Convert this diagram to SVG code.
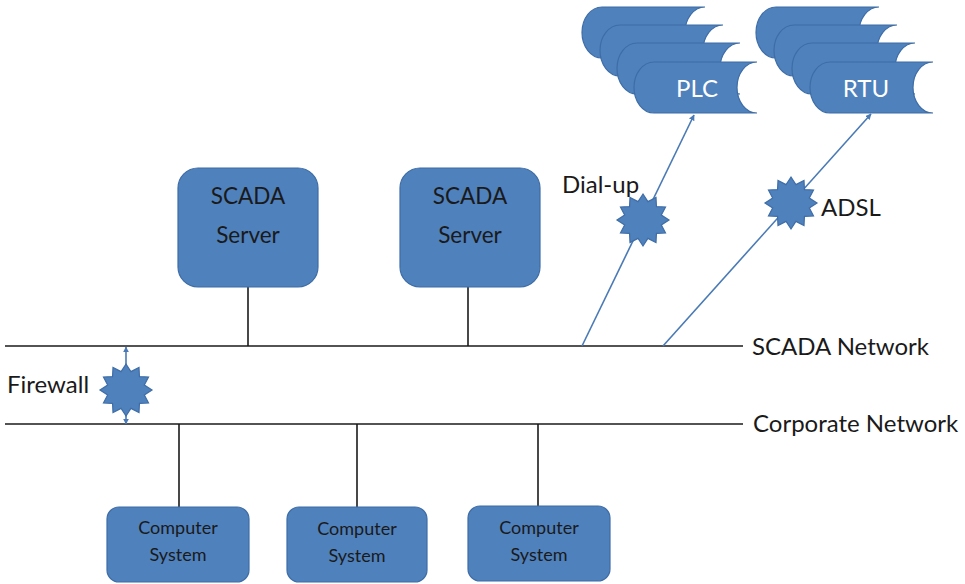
<svg xmlns="http://www.w3.org/2000/svg" width="965" height="584" viewBox="0 0 965 584">
<style>
.box{fill:#4F81BD;stroke:#3E6DA6;stroke-width:1.2}
.dark{font-family:Lato,"Liberation Sans",sans-serif;fill:#1a1a1a;text-anchor:middle}
.lbl{font-family:Lato,"Liberation Sans",sans-serif;fill:#1a1a1a;font-size:24px}
.white{font-family:Lato,"Liberation Sans",sans-serif;fill:#ffffff;text-anchor:middle;font-size:24px}
.net{stroke:#1a1a1a;stroke-width:1.6;fill:none}
.link{stroke:#4A7AB5;stroke-width:1.6;fill:none}
</style>
<defs>
<marker id="ah" viewBox="0 0 10 10" refX="9" refY="5" markerWidth="6" markerHeight="6" orient="auto-start-reverse" markerUnits="userSpaceOnUse">
<path d="M0,0 L10,5 L0,10 Z" fill="#4A7AB5"/>
</marker>
<polygon id="star" points="0,-26 4.92,-18.35 13,-22.52 13.43,-13.43 22.52,-13 18.35,-4.92 26,0 18.35,4.92 22.52,13 13.43,13.43 13,22.52 4.92,18.35 0,26 -4.92,18.35 -13,22.52 -13.43,13.43 -22.52,13 -18.35,4.92 -26,0 -18.35,-4.92 -22.52,-13 -13.43,-13.43 -13,-22.52 -4.92,-18.35"/>
<path id="sd" d="M20,0 H123 A20 25.5 0 0 0 123,51 H20 A20 25.5 0 0 1 20,0 Z"/>
</defs>

<g id="connectors">
<line class="net" x1="5" y1="346" x2="743" y2="346"/>
<line class="net" x1="5" y1="424" x2="743" y2="424"/>
<line class="net" x1="248" y1="287" x2="248" y2="346"/>
<line class="net" x1="468" y1="287" x2="468" y2="346"/>
<line class="net" x1="179" y1="424" x2="179" y2="507"/>
<line class="net" x1="357" y1="424" x2="357" y2="507"/>
<line class="net" x1="538" y1="424" x2="538" y2="506"/>
<line class="link" x1="582" y1="346" x2="694" y2="115" marker-end="url(#ah)"/>
<line class="link" x1="663" y1="346" x2="871" y2="114" marker-end="url(#ah)"/>
<line class="link" x1="126" y1="424" x2="126" y2="347" marker-start="url(#ah)" marker-end="url(#ah)"/>
</g>

<g id="scada-server-1">
<rect class="box" x="178" y="168" width="140" height="119" rx="20"/>
<text class="dark" font-size="22.5" x="248" y="204">SCADA</text>
<text class="dark" font-size="22.5" x="248" y="243">Server</text>
</g>
<g id="scada-server-2">
<rect class="box" x="400" y="168" width="140" height="119" rx="20"/>
<text class="dark" font-size="22.5" x="470" y="204">SCADA</text>
<text class="dark" font-size="22.5" x="470" y="243">Server</text>
</g>

<g id="computer-1">
<rect class="box" x="107" y="507" width="142" height="75" rx="12"/>
<text class="dark" font-size="18" x="178" y="534">Computer</text>
<text class="dark" font-size="18" x="178" y="561">System</text>
</g>
<g id="computer-2">
<rect class="box" x="287" y="507" width="140" height="75" rx="12"/>
<text class="dark" font-size="18" x="357" y="535">Computer</text>
<text class="dark" font-size="18" x="357" y="562">System</text>
</g>
<g id="computer-3">
<rect class="box" x="468" y="506" width="142" height="75" rx="12"/>
<text class="dark" font-size="18" x="539" y="534">Computer</text>
<text class="dark" font-size="18" x="539" y="561">System</text>
</g>

<g id="plc">
<use href="#sd" class="box" x="582" y="7"/>
<use href="#sd" class="box" x="600" y="25"/>
<use href="#sd" class="box" x="617" y="43"/>
<use href="#sd" class="box" x="634" y="62"/>
<text class="white" x="697" y="97">PLC</text>
</g>
<g id="rtu">
<use href="#sd" class="box" x="756" y="7"/>
<use href="#sd" class="box" x="774" y="25"/>
<use href="#sd" class="box" x="792" y="43"/>
<use href="#sd" class="box" x="810" y="62"/>
<text class="white" x="866" y="97">RTU</text>
</g>

<g id="firewall">
<use href="#star" class="box" x="126" y="390"/>
<text class="lbl" x="7" y="393">Firewall</text>
</g>
<g id="dialup">
<use href="#star" class="box" x="643" y="220"/>
<text class="lbl" x="562" y="193">Dial-up</text>
</g>
<g id="adsl">
<use href="#star" class="box" x="791" y="203"/>
<text class="lbl" font-size="22" x="821" y="216">ADSL</text>
</g>

<g id="labels">
<text class="lbl" x="752" y="355">SCADA Network</text>
<text class="lbl" x="753" y="432">Corporate Network</text>
</g>
</svg>
